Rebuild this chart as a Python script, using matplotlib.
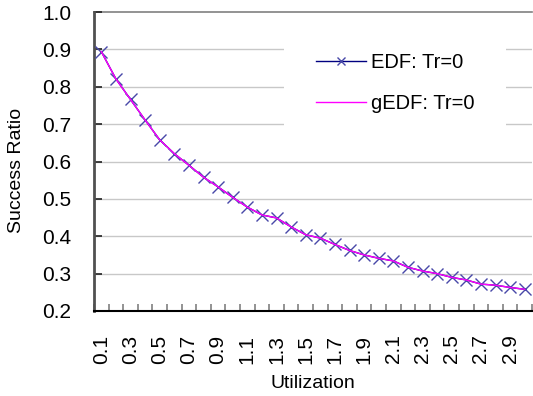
import matplotlib
matplotlib.use("Agg")
import matplotlib.pyplot as plt
import numpy as np

plt.rcParams['font.family'] = ['Liberation Sans', 'DejaVu Sans']

utilization = [f"{0.1 * (i + 1):.1f}" for i in range(30)]
edf = [0.894, 0.821, 0.766, 0.711, 0.658, 0.621, 0.590, 0.558, 0.532, 0.504,
       0.478, 0.457, 0.449, 0.425, 0.404, 0.395, 0.378, 0.362, 0.350, 0.341,
       0.334, 0.317, 0.307, 0.300, 0.290, 0.283, 0.272, 0.269, 0.263, 0.258]
gedf = [0.894, 0.821, 0.766, 0.711, 0.658, 0.621, 0.590, 0.558, 0.532, 0.504,
        0.478, 0.457, 0.449, 0.425, 0.404, 0.395, 0.378, 0.362, 0.350, 0.341,
        0.334, 0.317, 0.307, 0.300, 0.290, 0.283, 0.272, 0.269, 0.263, 0.258]
yticks = [0.2, 0.3, 0.4, 0.5, 0.6, 0.7, 0.8, 0.9, 1.0]

fig = plt.figure(figsize=(5.33, 3.96), dpi=100)
ax = fig.add_axes([94 / 533, 1 - 311 / 396, 438 / 533, 299 / 396])

x = np.arange(len(utilization))
ax.plot(x, edf, color='#000080', lw=1, marker='x', ms=8, mew=1,
        mec='#4848A8', label='EDF: Tr=0', zorder=3)
ax.plot(x, gedf, color='#FF00FF', lw=1, label='gEDF: Tr=0', zorder=4)

ax.set_xlim(-0.5, len(x) - 0.5)
ax.set_ylim(0.2, 1.0)

# grid
for v in yticks[1:-1]:
    ax.axhline(v, color='#C8C8C8', lw=1, zorder=1)
ax.axhline(1.0, color='#808080', lw=1.2, zorder=1, clip_on=False)

ax.set_yticks(yticks)
ax.set_yticklabels([f"{v:.1f}" for v in yticks])
ax.tick_params(axis='y', direction='in', length=6, width=1.2, color='#202020',
               labelsize=15, pad=16.5)

ax.set_xticks(x[::2])
ax.set_xticklabels(utilization[::2], rotation=90)
ax.set_xticks(np.arange(-0.5, len(x)), minor=True)
ax.tick_params(axis='x', which='major', length=0, labelsize=15, pad=17)
ax.tick_params(axis='x', which='minor', direction='in', length=5, width=1.2,
               color='#808080')

for s in ['top', 'right']:
    ax.spines[s].set_visible(False)
ax.spines['left'].set_color('#505050')
ax.spines['left'].set_linewidth(2)
ax.spines['bottom'].set_color('black')
ax.spines['bottom'].set_linewidth(1.5)

ax.set_xlabel('Utilization', fontsize=14, labelpad=8)
ax.set_ylabel('Success Ratio', fontsize=14)
ax.yaxis.set_label_coords(-0.158, 0.47)

leg = ax.legend(loc='upper left', bbox_to_anchor=(0.434, 0.97), frameon=True,
                fancybox=False, edgecolor='none', facecolor='white',
                framealpha=1, fontsize=14.5, handlelength=2.45,
                labelspacing=1.1, borderpad=1.6, handletextpad=0.25,
                borderaxespad=0)
leg.set_zorder(5)
leg.legend_handles[0].set_markersize(6)

fig.savefig('out.png', dpi=100)
